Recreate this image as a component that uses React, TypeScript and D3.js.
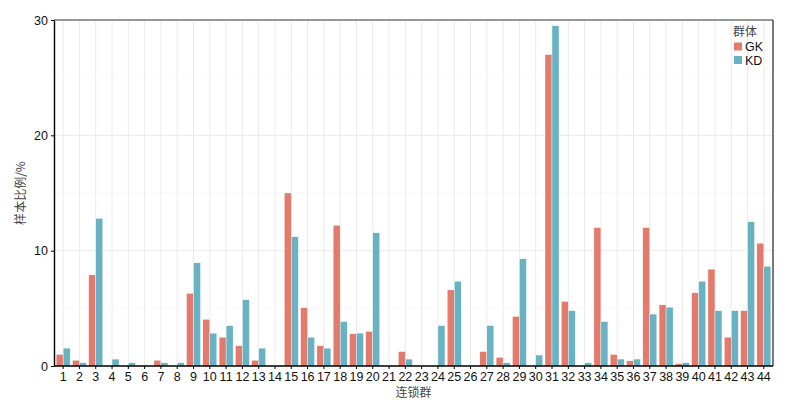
import React, { useRef, useEffect } from 'react';
import * as d3 from 'd3';

// 连锁群 1-44
const groups: string[] = d3.range(1, 45).map(String);
const series: string[] = ['GK', 'KD'];
const colors: string[] = ['#E37B6D', '#68B2C3'];

// 各连锁群样本比例（%）
const gkValues: number[] = [
  1.0, 0.5, 7.9, 0, 0, 0, 0.5, 0, 6.3, 4.05, 2.5, 1.75, 0.5, 0,
  15.0, 5.05, 1.75, 12.2, 2.8, 3.0, 0, 1.25, 0, 0, 6.6, 0, 1.25, 0.75, 4.3, 0,
  27.0, 5.6, 0, 12.0, 1.0, 0.45, 12.0, 5.3, 0.2, 6.35, 8.4, 2.5, 4.8, 10.65,
];
const kdValues: number[] = [
  1.55, 0.28, 12.8, 0.6, 0.28, 0, 0.28, 0.28, 8.95, 2.85, 3.5, 5.75, 1.55, 0,
  11.2, 2.5, 1.55, 3.85, 2.85, 11.55, 0, 0.6, 0, 3.5, 7.35, 0, 3.5, 0.28, 9.3, 0.95,
  29.5, 4.8, 0.28, 3.85, 0.6, 0.6, 4.5, 5.1, 0.28, 7.35, 4.8, 4.8, 12.5, 8.65,
];
const yTicks: number[] = [0, 10, 20, 30];
const yMinor: number[] = [5, 15, 25];

export default function App() {
  const svgRef = useRef<SVGSVGElement>(null);

  useEffect(() => {
    if (!svgRef.current) return;
    document.body.style.margin = '0';
    const svg = d3.select(svgRef.current);
    svg.selectAll('*').remove();

    const W = 791, H = 407;
    const margin = { top: 20, right: 18, bottom: 41, left: 54 };
    const x0 = margin.left, x1 = W - margin.right;
    const y0 = H - margin.bottom, y1 = margin.top;
    const font = 'Liberation Sans, Arial, sans-serif';
    const cjk = 'Noto Sans CJK SC, sans-serif';

    const x = d3.scaleBand().domain(groups).range([x0 + 1, x1 - 1]).paddingInner(0.14).paddingOuter(0.07);
    const xs = d3.scaleBand().domain(series).range([0, x.bandwidth()]);
    const y = d3.scaleLinear().domain([0, 30]).range([y0, y1]);

    svg.append('rect').attr('width', W).attr('height', H).attr('fill', '#fff');

    const grid = svg.append('g');
    yMinor.forEach(v => {
      grid.append('line').attr('x1', x0).attr('x2', x1).attr('y1', y(v)).attr('y2', y(v))
        .attr('stroke', '#f3f3f3').attr('stroke-width', 0.6);
    });
    yTicks.forEach(v => {
      grid.append('line').attr('x1', x0).attr('x2', x1).attr('y1', y(v)).attr('y2', y(v))
        .attr('stroke', '#ebebeb').attr('stroke-width', 1);
    });
    groups.forEach(g => {
      const cx = x(g)! + x.bandwidth() / 2;
      grid.append('line').attr('x1', cx).attr('x2', cx).attr('y1', y0).attr('y2', y1)
        .attr('stroke', '#ebebeb').attr('stroke-width', 1);
    });

    const data = groups.map((g, i) => ({ g, vals: [gkValues[i], kdValues[i]] }));
    const bars = svg.append('g');
    data.forEach(d => {
      d.vals.forEach((v, j) => {
        if (v <= 0) return;
        bars.append('rect')
          .attr('x', x(d.g)! + xs(series[j])!)
          .attr('y', y(v))
          .attr('width', xs.bandwidth())
          .attr('height', y0 - y(v))
          .attr('fill', colors[j])
          .attr('stroke', '#fff')
          .attr('stroke-width', 0.4);
      });
    });

    // 边框
    svg.append('line').attr('x1', x0).attr('x2', x1).attr('y1', y1).attr('y2', y1)
      .attr('stroke', '#777').attr('stroke-width', 1.4);
    svg.append('line').attr('x1', x1).attr('x2', x1).attr('y1', y1).attr('y2', y0)
      .attr('stroke', '#222').attr('stroke-width', 1.2);

    const xAxis = svg.append('g').attr('transform', `translate(0,${y0})`)
      .call(d3.axisBottom(x).tickSizeInner(3).tickSizeOuter(0).tickPadding(3));
    xAxis.select('.domain').attr('stroke', '#000').attr('stroke-width', 1.4)
      .attr('d', `M${x0},0H${x1}`);
    xAxis.selectAll('.tick line').attr('stroke', '#000');
    xAxis.selectAll('.tick text').attr('font-family', font).attr('font-size', 12.5).attr('fill', '#111');

    const yAxis = svg.append('g').attr('transform', `translate(${x0},0)`)
      .call(d3.axisLeft(y).tickValues(yTicks).tickSizeInner(3).tickSizeOuter(0).tickPadding(3));
    yAxis.select('.domain').attr('stroke', '#000').attr('stroke-width', 1.4);
    yAxis.selectAll('.tick line').attr('stroke', '#000');
    yAxis.selectAll('.tick text').attr('font-family', font).attr('font-size', 12.5).attr('fill', '#111');

    svg.append('text').attr('transform', `translate(25,${(y0 + y1) / 2}) rotate(-90)`)
      .attr('text-anchor', 'middle').attr('font-family', cjk).attr('font-size', 12).attr('fill', '#444')
      .text('样本比例/%');
    svg.append('text').attr('x', (x0 + x1) / 2).attr('y', 397)
      .attr('text-anchor', 'middle').attr('font-family', cjk).attr('font-size', 12).attr('fill', '#444')
      .text('连锁群');

    // 图例
    const lg = svg.append('g').attr('transform', 'translate(733,0)');
    lg.append('text').attr('x', 0).attr('y', 36).attr('font-family', cjk).attr('font-size', 12)
      .attr('fill', '#444').text('群体');
    series.forEach((s, i) => {
      lg.append('rect').attr('x', 1).attr('y', 42.5 + i * 13.5).attr('width', 8).attr('height', 8).attr('fill', colors[i]);
      lg.append('text').attr('x', 12).attr('y', 51 + i * 13.5).attr('font-family', font).attr('font-size', 12.5)
        .attr('fill', '#111').text(s);
    });
  }, []);

  return <svg ref={svgRef} width={791} height={407} style={{ display: 'block' }} />;
}
